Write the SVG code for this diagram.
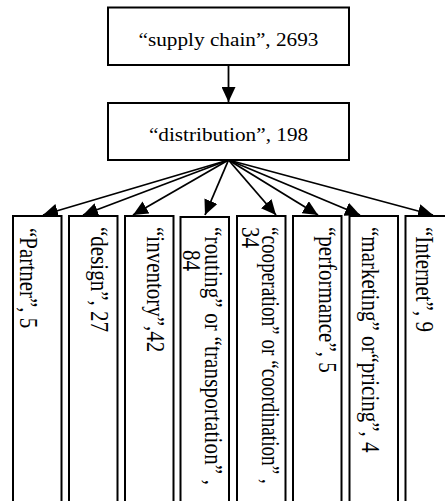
<svg xmlns="http://www.w3.org/2000/svg" width="445" height="501" viewBox="0 0 445 501">
<style>
.box{fill:#fff;stroke:#000;stroke-width:2}
.h{font-family:"Liberation Serif","Times New Roman",serif;font-size:19.5px;fill:#000}
.v{font-family:"Liberation Serif","Times New Roman",serif;font-size:21px;fill:#000}
.edge{stroke:#000;stroke-width:1.8;fill:none}
</style>
<defs>
<marker id="ah" viewBox="0 0 15 14" refX="15" refY="7" markerWidth="15" markerHeight="14" markerUnits="userSpaceOnUse" orient="auto">
<path d="M0,0 L15,7 L0,14 z" fill="#000"/>
</marker>
</defs>
<rect width="445" height="501" fill="#fff"/>
<g id="connectors">
<line class="edge" x1="228.5" y1="65" x2="228.5" y2="102" marker-end="url(#ah)"/>
<line class="edge" x1="228.5" y1="160" x2="43" y2="215" marker-end="url(#ah)"/>
<line class="edge" x1="228.5" y1="160" x2="83" y2="215" marker-end="url(#ah)"/>
<line class="edge" x1="228.5" y1="160" x2="133" y2="215" marker-end="url(#ah)"/>
<line class="edge" x1="228.5" y1="160" x2="205" y2="215" marker-end="url(#ah)"/>
<line class="edge" x1="228.5" y1="160" x2="276" y2="215" marker-end="url(#ah)"/>
<line class="edge" x1="228.5" y1="160" x2="318" y2="215" marker-end="url(#ah)"/>
<line class="edge" x1="228.5" y1="160" x2="360" y2="215" marker-end="url(#ah)"/>
<line class="edge" x1="228.5" y1="160" x2="433" y2="215" marker-end="url(#ah)"/>
</g>
<g id="supply-chain">
<rect class="box" x="108" y="7.5" width="241" height="57.5"/>
<text class="h" text-anchor="middle" transform="translate(228.5,45.5) scale(1.09,1)">“supply chain”, 2693</text>
</g>
<g id="distribution">
<rect class="box" x="108" y="103" width="241" height="57"/>
<text class="h" text-anchor="middle" transform="translate(228.5,141) scale(1.09,1)">“distribution”, 198</text>
</g>
<g id="partner">
<rect class="box" x="13" y="216" width="48.5" height="300"/>
<text class="v" transform="translate(20,228) scale(1.2,1) rotate(90)">“Partner”, 5</text>
</g>
<g id="design">
<rect class="box" x="69" y="216" width="48.5" height="300"/>
<text class="v" transform="translate(91,227) scale(1.2,1) rotate(90)">“design”, 27</text>
</g>
<g id="inventory">
<rect class="box" x="125" y="216" width="48.5" height="300"/>
<text class="v" transform="translate(147,227) scale(1.2,1) rotate(90)">“inventory”,42</text>
</g>
<g id="routing">
<rect class="box" x="180.5" y="217" width="48.5" height="300"/>
<text class="v" transform="translate(205,227) scale(1.2,1) rotate(90)" textLength="258" lengthAdjust="spacing">“routing”  or  “transportation” ,</text>
<text class="v" transform="translate(183,250) scale(1.2,1) rotate(90)">84</text>
</g>
<g id="cooperation">
<rect class="box" x="237" y="216" width="48.5" height="300"/>
<text class="v" style="font-size:19.2px" transform="translate(262,227) scale(1.3,1) rotate(90)">“cooperation” or “coordination” ,</text>
<text class="v" transform="translate(242,227) scale(1.2,1) rotate(90)">34</text>
</g>
<g id="performance">
<rect class="box" x="293" y="216" width="48.5" height="300"/>
<text class="v" transform="translate(319,227) scale(1.2,1) rotate(90)">“performance”, 5</text>
</g>
<g id="marketing">
<rect class="box" x="349.5" y="216" width="48.5" height="300"/>
<text class="v" transform="translate(362,227) scale(1.2,1) rotate(90)">“marketing” or“pricing”, 4</text>
</g>
<g id="internet">
<rect class="box" x="405.5" y="216" width="48.5" height="300"/>
<text class="v" transform="translate(416,227) scale(1.2,1) rotate(90)">“Internet”, 9</text>
</g>
</svg>
